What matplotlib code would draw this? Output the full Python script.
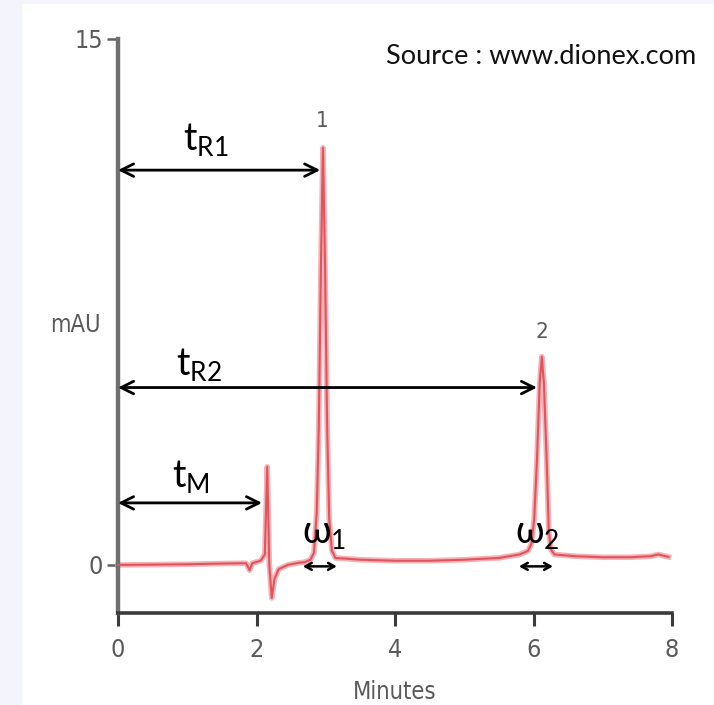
import matplotlib
matplotlib.use("Agg")
import matplotlib.pyplot as plt
from matplotlib.patches import Rectangle

# Chromatogram trace (time in minutes, absorbance in mAU)
time_min = [0.00, 0.50, 1.00, 1.50, 1.85, 1.90, 1.94, 2.06, 2.12, 2.155, 2.185,
            2.22, 2.26, 2.32, 2.45, 2.60, 2.70, 2.78, 2.83, 2.87, 2.90, 2.93,
            2.96, 2.99, 3.02, 3.05, 3.09, 3.14, 3.50, 4.00, 4.50, 5.00, 5.50,
            5.80, 5.92, 5.97, 6.01, 6.05, 6.09, 6.12, 6.15, 6.19, 6.22, 6.25,
            6.30, 6.60, 7.00, 7.40, 7.70, 7.80, 7.95]
signal_mau = [0.00, 0.01, 0.02, 0.04, 0.05, -0.15, 0.05, 0.12, 0.30, 2.80, 0.00,
              -0.94, -0.40, -0.12, 0.00, 0.06, 0.08, 0.15, 0.35, 1.50, 4.00, 8.50,
              11.90, 8.50, 4.00, 1.30, 0.40, 0.20, 0.15, 0.12, 0.12, 0.15, 0.20,
              0.30, 0.40, 0.60, 1.30, 3.00, 5.20, 5.94, 5.20, 3.00, 1.00, 0.45,
              0.30, 0.25, 0.22, 0.22, 0.25, 0.30, 0.23]

x_ticks = [0, 2, 4, 6, 8]
y_ticks = [0, 15]
x_range = (0, 8)
y_range = (-1.37, 15)

# Peak identifiers
peak_names = ["1", "2"]
peak_times = [2.95, 6.12]
peak_label_y = [12.65, 6.65]

# Retention-time arrows: label, subscript, arrow end time, arrow height, label position
ret_labels = ["t", "t", "t"]
ret_subs = ["R1", "R2", "M"]
ret_end = [2.92, 6.05, 2.08]
ret_y = [11.26, 5.06, 1.77]
ret_text_x = [0.94, 0.84, 0.78]
ret_text_y = [11.83, 5.42, 2.22]

# Peak-width arrows
width_subs = ["1", "2"]
width_start = [2.67, 5.79]
width_end = [3.16, 6.28]
width_y = [-0.04, -0.04]
width_text_x = [2.66, 5.73]
width_text_y = [0.63, 0.63]

source_text = "Source : www.dionex.com"

plt.rcParams["mathtext.fontset"] = "custom"
plt.rcParams["mathtext.rm"] = "Lato"
plt.rcParams["mathtext.it"] = "Lato:italic"
plt.rcParams["mathtext.bf"] = "Lato:bold"

narrow = ["Liberation Sans Narrow", "DejaVu Sans"]
gray = "#5a5a5a"
label_style = dict(family=narrow, stretch="condensed", color=gray)

fig = plt.figure(figsize=(7.14, 7.05), dpi=100)
fig.patch.set_facecolor("white")
# pale page margin on the left and top
fig.patches.append(Rectangle((0, 0), 22 / 714, 1, transform=fig.transFigure,
                             facecolor="#f4f5fc", edgecolor="none", zorder=0))
fig.patches.append(Rectangle((0, 1 - 4 / 705), 1, 4 / 705, transform=fig.transFigure,
                             facecolor="#f4f5fc", edgecolor="none", zorder=0))

ax = fig.add_axes([118 / 714, 92 / 705, 554 / 714, 574 / 705])
ax.set_facecolor("none")
ax.set_xlim(*x_range)
ax.set_ylim(*y_range)

# trace with soft pink halo
ax.plot(time_min, signal_mau, color="#f4b3b7", lw=4.0, solid_joinstyle="round",
        zorder=2, clip_on=False)
ax.plot(time_min, signal_mau, color="#e2545d", lw=1.5, solid_joinstyle="round",
        zorder=3, clip_on=False)

for s in ["top", "right"]:
    ax.spines[s].set_visible(False)
ax.spines["left"].set_color("#707070")
ax.spines["left"].set_linewidth(3.2)
ax.spines["bottom"].set_color("#3a3a3a")
ax.spines["bottom"].set_linewidth(2.6)

ax.set_xticks(x_ticks)
ax.set_yticks(y_ticks)
ax.tick_params(axis="x", direction="out", length=9, width=2.2, color="#3a3a3a",
               pad=9, labelsize=18, labelcolor=gray)
ax.tick_params(axis="y", direction="out", length=8, width=1.8, color="#606060",
               pad=3, labelsize=18, labelcolor=gray)
for lab in ax.get_xticklabels() + ax.get_yticklabels():
    lab.set_family(narrow)
    lab.set_stretch("condensed")

ax.set_xlabel("Minutes", fontsize=17, labelpad=13, **label_style)
ax.text(-0.62, 6.84, "mAU", fontsize=17, ha="center", va="center", **label_style)

for name, t, y in zip(peak_names, peak_times, peak_label_y):
    ax.text(t, y, name, fontsize=16, ha="center", va="center", **label_style)

big_arrow = dict(arrowstyle="<->,head_length=0.9,head_width=0.45",
                 color="black", lw=2.0, shrinkA=0, shrinkB=0)
for lab, sub, xe, ya, tx, ty in zip(ret_labels, ret_subs, ret_end, ret_y,
                                    ret_text_x, ret_text_y):
    ax.annotate("", xy=(xe, ya), xytext=(0, ya), arrowprops=big_arrow, zorder=5)
    ax.text(tx, ty, r"$\mathrm{%s}_{\mathrm{%s}}$" % (lab, sub), fontsize=27,
            color="black", ha="left", va="baseline", zorder=6)

small_arrow = dict(arrowstyle="<->,head_length=0.45,head_width=0.25",
                   color="black", lw=1.8, shrinkA=0, shrinkB=0)
for sub, xs, xe, ya, tx, ty in zip(width_subs, width_start, width_end, width_y,
                                   width_text_x, width_text_y):
    ax.annotate("", xy=(xe, ya), xytext=(xs, ya), arrowprops=small_arrow, zorder=5)
    ax.text(tx, ty, r"$\mathrm{\omega}_{\mathrm{%s}}$" % sub, fontsize=27,
            color="black", ha="left", va="baseline", zorder=6)

fig.text(386 / 714, 1 - 57 / 705, source_text, family=["Lato", "DejaVu Sans"],
         fontsize=19.5, color="#111111", ha="left", va="center")

fig.savefig("out.png", dpi=100, facecolor="white")
